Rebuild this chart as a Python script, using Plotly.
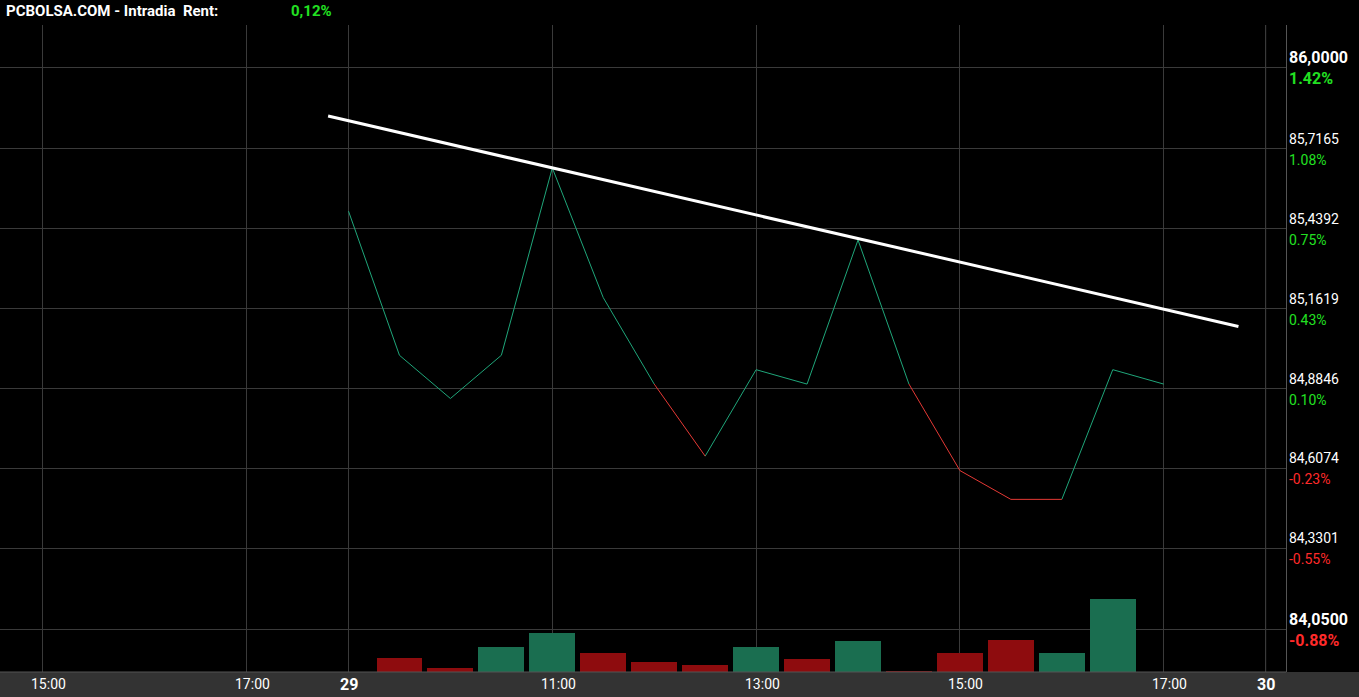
import plotly.graph_objects as go

# ---------------- data ----------------
prev_close = 84.80
times = ["09:00", "09:30", "10:00", "10:30", "11:00", "11:30", "12:00", "12:30",
         "13:00", "13:30", "14:00", "14:30", "15:00", "15:30", "16:00", "16:30", "17:00"]
prices = [85.50, 85.00, 84.85, 85.00, 85.65, 85.20, 84.90, 84.65,
          84.95, 84.90, 85.40, 84.90, 84.60, 84.50, 84.50, 84.95, 84.90]
vol_times = ["09:30", "10:00", "10:30", "11:00", "11:30", "12:00", "12:30", "13:00",
             "13:30", "14:00", "14:30", "15:00", "15:30", "16:00", "16:30"]
volumes = [14, 4, 25, 39, 19, 10, 7, 25, 13, 31, 1, 19, 32, 19, 73]   # thousands
trend_times = ["08:48", "17:44"]
trend_prices = [85.83, 85.10]
price_ticks = [86.0000, 85.7165, 85.4392, 85.1619, 84.8846, 84.6074, 84.3301, 84.0500]
x_tick_pos = [-3, -1, 0, 2, 4, 6, 8, 9]          # session hours from 09:00 of day 29
x_tick_labels = ["15:00", "17:00", "29", "11:00", "13:00", "15:00", "17:00", "30"]

# ---------------- helpers ----------------
GREEN_LINE = "#1fa67a"
RED_LINE = "#e53935"
GREEN_BAR = "#1a6e50"
RED_BAR = "#8e0c0e"
TXT_GREEN = "#22e022"
TXT_RED = "#ff2a2a"
GRID = "#3a3a3a"

def hx(t):
    h, m = t.split(":")
    return int(h) + int(m) / 60.0 - 9.0

px_x = [hx(t) for t in times]
vx = [hx(t) for t in vol_times]

W, H = 1359, 697
ML, MR, MT, MB = 0, 73, 25, 25
PW, PH = W - ML - MR, H - MT - MB

fig = go.Figure()

# volume bars (colour by change vs previous half hour)
bar_cols = []
for t in vol_times:
    i = times.index(t)
    bar_cols.append(GREEN_BAR if prices[i] >= prices[i - 1] else RED_BAR)
fig.add_trace(go.Bar(x=vx, y=volumes, width=0.45, yaxis="y2",
                     marker=dict(color=bar_cols, line=dict(width=0)),
                     hoverinfo="skip", showlegend=False))

# price line, segments coloured by end point vs previous close
gx, gy, rx, ry = [], [], [], []
for i in range(1, len(prices)):
    seg_x = [px_x[i - 1], px_x[i], None]
    seg_y = [prices[i - 1], prices[i], None]
    if prices[i] >= prev_close:
        gx += seg_x; gy += seg_y
    else:
        rx += seg_x; ry += seg_y
fig.add_trace(go.Scatter(x=gx, y=gy, mode="lines", line=dict(color=GREEN_LINE, width=1),
                         hoverinfo="skip", showlegend=False))
fig.add_trace(go.Scatter(x=rx, y=ry, mode="lines", line=dict(color=RED_LINE, width=1),
                         hoverinfo="skip", showlegend=False))

# trend line
fig.add_trace(go.Scatter(x=[hx(t) for t in trend_times], y=trend_prices, mode="lines",
                         line=dict(color="#ffffff", width=3),
                         hoverinfo="skip", showlegend=False))

x0 = -3.42
x1 = 9.20
y_lo = 83.901
y_hi = 86.146

annotations = []
# header
annotations.append(dict(text="<b>PCBOLSA.COM - Intradia&nbsp;&nbsp;Rent:</b>", xref="paper", yref="paper",
                        x=4 / PW, y=1 + (MT - 11) / PH, xanchor="left", yanchor="middle",
                        showarrow=False, font=dict(family="Roboto", size=15, color="#ffffff")))
rent = (prices[-1] / prev_close - 1) * 100
annotations.append(dict(text="<b>" + f"{rent:.2f}".replace(".", ",") + "%</b>", xref="paper", yref="paper",
                        x=289 / PW, y=1 + (MT - 11) / PH, xanchor="left", yanchor="middle",
                        showarrow=False, font=dict(family="Roboto", size=15,
                                                   color=TXT_GREEN if rent >= 0 else TXT_RED)))

# right axis labels
for k, v in enumerate(price_ticks):
    edge = k == 0 or k == len(price_ticks) - 1
    pct = (v / prev_close - 1) * 100
    ptxt = f"{v:.4f}".replace(".", ",")
    qtxt = f"{pct:.2f}%"
    if edge:
        ptxt = "<b>" + ptxt + "</b>"
        qtxt = "<b>" + qtxt + "</b>"
    fs = 16 if edge else 14
    annotations.append(dict(text=ptxt, xref="paper", yref="y", x=(PW + 0.5) / PW, y=v,
                            xanchor="left", yanchor="middle", yshift=10, showarrow=False,
                            font=dict(family="Roboto", size=fs, color="#ffffff")))
    annotations.append(dict(text=qtxt, xref="paper", yref="y", x=(PW + 0.5) / PW, y=v,
                            xanchor="left", yanchor="middle", yshift=-11, showarrow=False,
                            font=dict(family="Roboto", size=fs,
                                      color=TXT_GREEN if pct >= 0 else TXT_RED)))

# x labels
for p, lab in zip(x_tick_pos, x_tick_labels):
    day = ":" not in lab
    annotations.append(dict(text=("<b>" + lab + "</b>") if day else lab, xref="x", yref="paper",
                            x=p, y=-12 / PH, xanchor="center", yanchor="middle",
                            xshift=0 if day else 6, showarrow=False,
                            font=dict(family="Roboto", size=16 if day else 14, color="#ffffff")))

shapes = [
    dict(type="rect", xref="paper", yref="paper", x0=-0.01, x1=W / PW + 0.01, y0=-MB / PH - 0.01, y1=0,
         fillcolor="#333333", line=dict(width=0), layer="above"),
    dict(type="line", xref="paper", yref="paper", x0=0, x1=1, y0=0, y1=0,
         line=dict(color="#555555", width=1)),
]
for p, lab in zip(x_tick_pos, x_tick_labels):
    if lab == "30":
        shapes.append(dict(type="line", xref="x", yref="paper", x0=p, x1=p, y0=0, y1=1,
                           line=dict(color="#5a5a5a", width=1), layer="below"))

fig.update_layout(
    width=W, height=H,
    margin=dict(l=ML, r=MR, t=MT, b=MB),
    paper_bgcolor="#000000", plot_bgcolor="#000000",
    showlegend=False, bargap=0,
    xaxis=dict(range=[x0, x1], tickvals=x_tick_pos, showticklabels=False, showgrid=True,
               gridcolor=GRID, gridwidth=1, zeroline=False, showline=False, fixedrange=True),
    yaxis=dict(range=[y_lo, y_hi], tickvals=price_ticks, showticklabels=False, showgrid=True,
               gridcolor=GRID, gridwidth=1, zeroline=False, side="right",
               showline=True, linecolor="#555555", linewidth=1, fixedrange=True),
    yaxis2=dict(range=[0, PH], overlaying="y", visible=False, fixedrange=True),
    annotations=annotations,
    shapes=shapes,
    hovermode=False,
)

fig.write_html("out.html", config={"displayModeBar": False},
               post_script="document.body.style.margin='0';document.body.style.overflow='hidden';document.body.style.background='#000';")
